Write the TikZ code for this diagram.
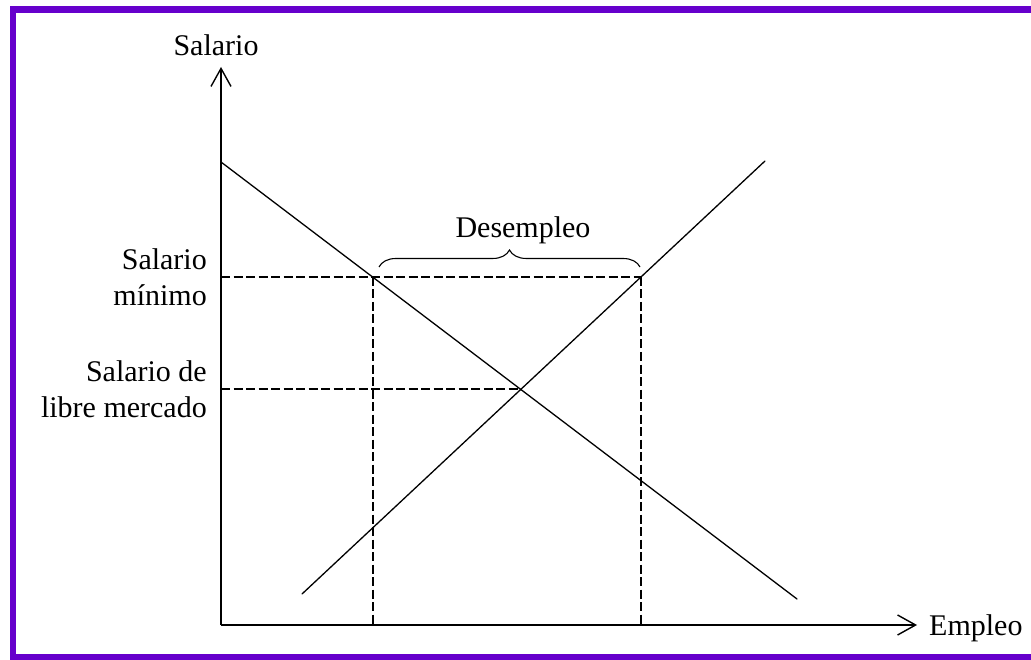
\documentclass[tikz,border=0pt]{standalone}
\usepackage{fontspec}
\setmainfont{Liberation Serif}
\usetikzlibrary{arrows.meta,decorations.pathreplacing}
\definecolor{borderpurple}{RGB}{102,0,204}
\tikzset{
  axis/.style={line width=1.6pt, -{Straight Barb[length=18pt,width=20pt,line width=1.4pt]}},
  curve/.style={line width=1.3pt, line cap=round},
  guide/.style={line width=1.2pt, dash pattern=on 9pt off 3.5pt},
  lbl/.style={inner sep=0pt, font=\fontsize{30}{36}\selectfont},
  frame/.style={fill=borderpurple, draw=none}
}
\begin{document}
\begin{tikzpicture}[x=1pt,y=-1pt]
\useasboundingbox (0,0) rectangle (1031,660);
% frame
\fill[frame] (10,6) rectangle (1031,13);
\fill[frame] (10,6) rectangle (16,660);
\fill[frame] (10,654) rectangle (1031,660);
% coordinates
\coordinate (O) at (221,625);
\coordinate (Ytop) at (221,67);
\coordinate (Xend) at (917,625);
\coordinate (D1) at (221,162);
\coordinate (D2) at (797,599);
\coordinate (S1) at (302,594);
\coordinate (S2) at (765,161);
\coordinate (Wmin) at (221,277);
\coordinate (Wfree) at (221,389);
\coordinate (Aw) at (373,277);
\coordinate (Bw) at (641,277);
\coordinate (Eq) at (520,389);
\coordinate (A0) at (373,625);
\coordinate (B0) at (641,625);
\coordinate (BrL) at (379,267);
\coordinate (BrR) at (640,267);
% guides
\draw[guide] (Wmin) -- (Bw);
\draw[guide] (Wfree) -- (Eq);
\draw[guide] (Aw) -- (A0);
\draw[guide] (Bw) -- (B0);
% curves
\draw[curve] (D1) -- (D2);
\draw[curve] (S1) -- (S2);
% axes
\draw[axis] (O) -- (Ytop);
\draw[axis] (O) -- (Xend);
% brace
\draw[line width=1.1pt, decorate, decoration={brace, amplitude=17pt}] (BrL) -- (BrR);
% labels
\node[lbl, anchor=base] (ylab) at (216,56) {Salario};
\node[lbl, anchor=base west] (xlab) at (929,635) {Empleo};
\node[lbl, anchor=base] (desem) at (523,238) {Desempleo};
\node[lbl, anchor=east, align=right] (smin) at (207,277) {Salario\\mínimo};
\node[lbl, anchor=east, align=right] (sfree) at (207,389) {Salario de\\libre mercado};
\end{tikzpicture}
\end{document}
